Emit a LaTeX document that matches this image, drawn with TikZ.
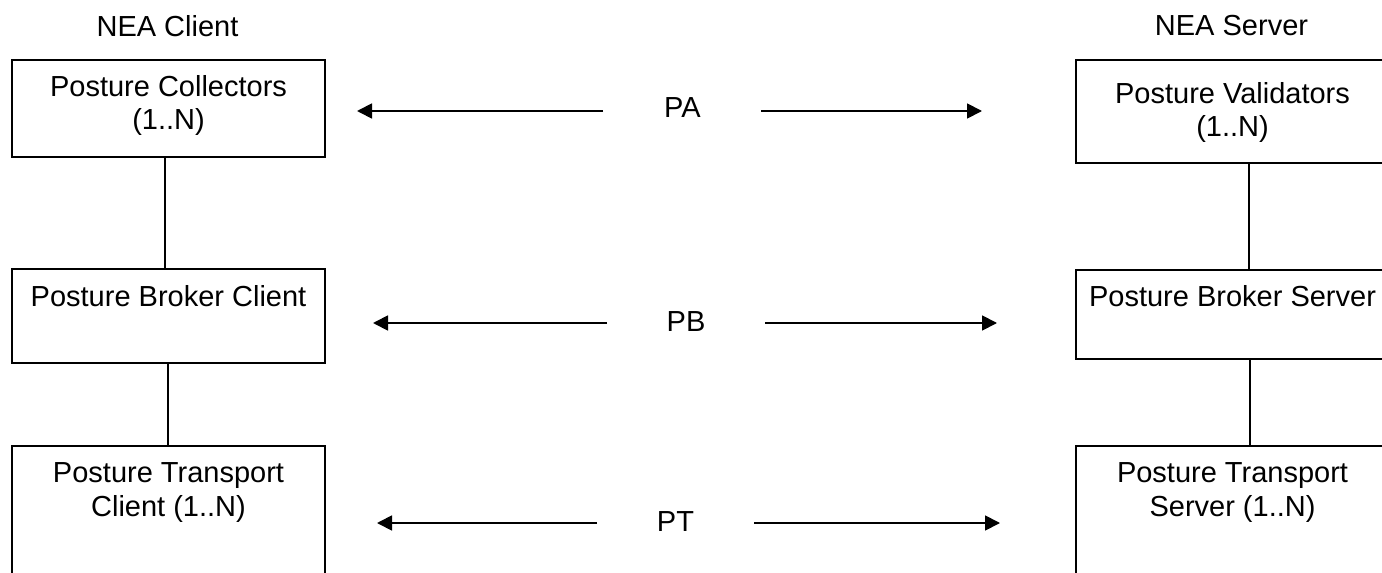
\documentclass[tikz,border=0pt]{standalone}
\usepackage{fontspec}
\setmainfont{Liberation Sans}
\usetikzlibrary{arrows.meta}

\begin{document}
\begin{tikzpicture}[
  x=1bp, y=-1bp,
  every node/.style={font=\fontsize{29bp}{33.5bp}\selectfont, inner sep=0pt, outer sep=0pt},
  blockbox/.style={draw, line width=1.8bp, minimum width=313bp, anchor=north west},
  blocktext/.style={anchor=north, align=center},
  link/.style={line width=1.6bp},
  flow/.style={line width=1.8bp, -{Triangle[length=15bp, width=15bp]}}
]
\clip (0,0) rectangle (1382,573);

% column headings
\node[anchor=north] (hc) at (167.5,15) {NEA Client};
\node[anchor=north] (hs) at (1231.5,15) {NEA Server};

% client side blocks
\node[blockbox, minimum height=97bp] (pc)  at (12,60)  {};
\node[blockbox, minimum height=94bp] (pbc) at (12,269) {};
\node[blockbox, minimum height=160bp] (ptc) at (12,446) {};

% server side blocks
\node[blockbox, minimum height=103bp] (pv)  at (1076,60)  {};
\node[blockbox, minimum height=89bp]  (pbs) at (1076,270) {};
\node[blockbox, minimum height=160bp] (pts) at (1076,446) {};

% block captions
\node[blocktext] (pc-t)  at ([yshift=-15bp]pc.north)  {Posture Collectors\\(1..N)};
\node[blocktext] (pbc-t) at ([yshift=-16bp]pbc.north) {Posture Broker Client};
\node[blocktext] (ptc-t) at ([yshift=-17bp]ptc.north) {Posture Transport\\Client (1..N)};
\node[blocktext] (pv-t)  at ([yshift=-22bp]pv.north)  {Posture Validators\\(1..N)};
\node[blocktext] (pbs-t) at ([yshift=-15bp]pbs.north) {Posture Broker Server};
\node[blocktext] (pts-t) at ([yshift=-17bp]pts.north) {Posture Transport\\Server (1..N)};

% vertical links between layers
\draw[link] ([xshift=-3.5bp]pc.south)  -- ([xshift=-3.5bp]pbc.north);
\draw[link] ([xshift=-0.5bp]pbc.south) -- ([xshift=-0.5bp]ptc.north);
\draw[link] ([xshift=16.5bp]pv.south)  -- ([xshift=16.5bp]pbs.north);
\draw[link] ([xshift=17.5bp]pbs.south) -- ([xshift=17.5bp]pts.north);

% protocol labels
\node (pa) at (682.5,108) {PA};
\node (pb) at (686,322) {PB};
\node (pt) at (675.5,522) {PT};

% protocol arrow end points
\coordinate (pa-ls) at (603,111);  \coordinate (pa-lt) at (357,111);
\coordinate (pa-rs) at (761,111);  \coordinate (pa-rt) at (982,111);
\coordinate (pb-ls) at (607,323);  \coordinate (pb-lt) at (373,323);
\coordinate (pb-rs) at (765,323);  \coordinate (pb-rt) at (997,323);
\coordinate (pt-ls) at (597,523);  \coordinate (pt-lt) at (377,523);
\coordinate (pt-rs) at (754,523);  \coordinate (pt-rt) at (1000,523);

\draw[flow] (pa-ls) -- (pa-lt);
\draw[flow] (pa-rs) -- (pa-rt);
\draw[flow] (pb-ls) -- (pb-lt);
\draw[flow] (pb-rs) -- (pb-rt);
\draw[flow] (pt-ls) -- (pt-lt);
\draw[flow] (pt-rs) -- (pt-rt);
\end{tikzpicture}
\end{document}
